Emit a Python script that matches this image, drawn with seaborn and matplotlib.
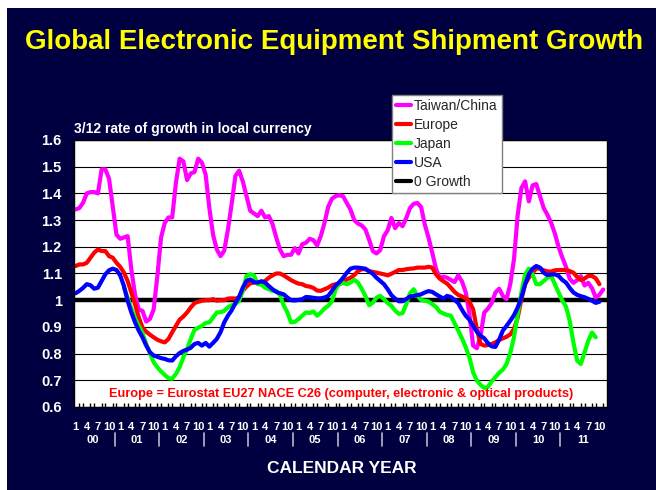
import matplotlib.pyplot as plt
import numpy as np
import seaborn as sns
from matplotlib.lines import Line2D
from matplotlib.patches import Rectangle

# Monthly series, month index 0 = Jan 2000
taiwan = [
    1.34, 1.345, 1.365, 1.40, 1.405, 1.405, 1.40, 1.49, 1.49, 1.455, 1.35, 1.245,
    1.23, 1.235, 1.24, 1.115, 1.02, 0.965, 0.96, 0.92, 0.93, 0.965, 1.09, 1.235,
    1.29, 1.31, 1.31, 1.44, 1.53, 1.52, 1.45, 1.475, 1.48, 1.53, 1.515, 1.47,
    1.345, 1.245, 1.19, 1.165, 1.185, 1.265, 1.36, 1.465, 1.485, 1.445, 1.39, 1.335,
    1.325, 1.315, 1.335, 1.31, 1.315, 1.285, 1.235, 1.19, 1.165, 1.17, 1.17, 1.195,
    1.175, 1.21, 1.215, 1.23, 1.225, 1.205, 1.24, 1.29, 1.35, 1.38, 1.39, 1.393,
    1.389, 1.364, 1.339, 1.30, 1.287, 1.28, 1.265, 1.227, 1.184, 1.175, 1.188, 1.24,
    1.262, 1.308, 1.27, 1.289, 1.277, 1.308, 1.345, 1.361, 1.364, 1.349, 1.283, 1.234,
    1.178, 1.118, 1.084, 1.088, 1.084, 1.076, 1.068, 1.093, 1.07, 1.03, 0.95, 0.83,
    0.82, 0.867, 0.954, 0.969, 0.989, 1.029, 1.043, 1.016, 1.004, 1.06, 1.153, 1.32,
    1.42, 1.445, 1.37, 1.43, 1.435, 1.39, 1.345, 1.32, 1.29, 1.25, 1.20, 1.16,
    1.125, 1.08, 1.065, 1.075, 1.09, 1.055, 1.065, 1.045, 1.01, 1.02, 1.04,
]
europe = [
    1.128, 1.134, 1.134, 1.14, 1.159, 1.178, 1.19, 1.184, 1.184, 1.165, 1.159, 1.14,
    1.125, 1.103, 1.072, 1.029, 0.985, 0.935, 0.898, 0.882, 0.871, 0.861, 0.852, 0.846,
    0.842, 0.855, 0.88, 0.904, 0.927, 0.939, 0.954, 0.973, 0.989, 0.994, 0.998, 1.0,
    1.0, 1.004, 0.998, 1.0, 1.0, 1.006, 1.007, 1.006, 1.01, 1.035, 1.051, 1.063,
    1.066, 1.066, 1.066, 1.072, 1.084, 1.093, 1.1, 1.1, 1.093, 1.084, 1.075, 1.068,
    1.062, 1.06, 1.053, 1.051, 1.046, 1.036, 1.035, 1.041, 1.047, 1.056, 1.06, 1.06,
    1.068, 1.078, 1.084, 1.094, 1.109, 1.116, 1.116, 1.109, 1.106, 1.103, 1.1, 1.097,
    1.093, 1.099, 1.106, 1.113, 1.113, 1.116, 1.118, 1.119, 1.122, 1.122, 1.122, 1.125,
    1.122, 1.097, 1.081, 1.071, 1.062, 1.047, 1.031, 1.02, 1.014, 1.007, 0.995, 0.966,
    0.892, 0.836, 0.83, 0.832, 0.836, 0.842, 0.851, 0.857, 0.863, 0.872, 0.892, 0.935,
    1.004, 1.06, 1.084, 1.103, 1.119, 1.118, 1.112, 1.108, 1.107, 1.112, 1.113, 1.113,
    1.113, 1.109, 1.103, 1.087, 1.076, 1.081, 1.091, 1.091, 1.082, 1.06,
]
usa = [
    1.026, 1.035, 1.046, 1.06, 1.056, 1.043, 1.047, 1.072, 1.097, 1.112, 1.118, 1.113,
    1.093, 1.053, 0.998, 0.954, 0.917, 0.886, 0.861, 0.83, 0.805, 0.793, 0.788, 0.783,
    0.78, 0.775, 0.774, 0.79, 0.802, 0.81, 0.815, 0.822, 0.836, 0.84, 0.83, 0.84,
    0.826, 0.84, 0.855, 0.88, 0.917, 0.942, 0.962, 0.989, 1.012, 1.047, 1.072, 1.078,
    1.068, 1.066, 1.071, 1.066, 1.053, 1.041, 1.031, 1.026, 1.022, 1.01, 1.0, 0.999,
    1.001, 1.004, 1.012, 1.011, 1.009, 1.007, 1.007, 1.01, 1.016, 1.035, 1.055, 1.068,
    1.084, 1.103, 1.118, 1.122, 1.122, 1.12, 1.118, 1.108, 1.099, 1.084, 1.072, 1.06,
    1.041, 1.019, 1.006, 0.996, 0.996, 1.004, 1.014, 1.016, 1.019, 1.022, 1.029, 1.034,
    1.031, 1.022, 1.014, 1.006, 1.016, 1.012, 1.001, 0.989, 0.964, 0.942, 0.927, 0.904,
    0.882, 0.867, 0.857, 0.839, 0.827, 0.825, 0.852, 0.886, 0.904, 0.923, 0.944, 0.973,
    1.01, 1.06, 1.097, 1.118, 1.128, 1.122, 1.103, 1.094, 1.096, 1.097, 1.091, 1.076,
    1.066, 1.046, 1.029, 1.02, 1.015, 1.011, 1.005, 0.998, 0.99, 0.994,
]
japan_start = 13  # Feb 2001
japan = [
    1.047, 1.01, 0.969, 0.932, 0.904, 0.877, 0.836, 0.802, 0.768, 0.749, 0.733,
    0.72, 0.708, 0.706, 0.724, 0.749, 0.786, 0.817, 0.855, 0.889, 0.897, 0.904, 0.915,
    0.917, 0.935, 0.954, 0.955, 0.96, 0.973, 0.981, 0.985, 0.998, 1.035, 1.091, 1.097,
    1.093, 1.06, 1.058, 1.047, 1.041, 1.035, 1.035, 1.019, 0.981, 0.954, 0.917, 0.919,
    0.929, 0.942, 0.954, 0.952, 0.958, 0.942, 0.954, 0.969, 0.979, 0.996, 1.041, 1.063,
    1.065, 1.06, 1.066, 1.076, 1.066, 1.043, 1.016, 0.981, 0.991, 1.01, 1.016, 1.004,
    0.989, 0.979, 0.961, 0.949, 0.951, 0.985, 1.026, 1.041, 1.016, 1.001, 0.998, 0.995,
    0.985, 0.975, 0.957, 0.95, 0.945, 0.942, 0.914, 0.886, 0.857, 0.824, 0.786, 0.73,
    0.699, 0.683, 0.671, 0.675, 0.696, 0.712, 0.728, 0.74, 0.761, 0.802, 0.861, 0.948,
    1.029, 1.097, 1.118, 1.097, 1.06, 1.06, 1.072, 1.084, 1.091, 1.06, 1.029, 0.998,
    0.976, 0.923, 0.842, 0.774, 0.761, 0.805, 0.848, 0.879, 0.861,
]
zero_growth = 1.0

month_labels = ["1", "4", "7", "10"]
year_labels = ["00", "01", "02", "03", "04", "05", "06", "07", "08", "09", "10", "11"]

NAVY = "#000040"

sns.set_theme(style="white")
plt.rcParams["font.family"] = ["Liberation Sans", "DejaVu Sans"]

fig = plt.figure(figsize=(6.56, 4.9), dpi=100)
fig.patch.set_facecolor("white")
fig.patches.append(Rectangle((7 / 656, 0), 1 - 7 / 656, 1 - 8 / 490,
                             transform=fig.transFigure, facecolor=NAVY,
                             edgecolor="none", zorder=-10))

ax = fig.add_axes([0.1133, 0.1694, 0.8115, 0.5449])
ax.set_facecolor("white")

series = [
    ("Taiwan/China", np.arange(len(taiwan)), taiwan, "#ff00ff"),
    ("Europe", np.arange(len(europe)), europe, "#ff0000"),
    ("Japan", np.arange(len(japan)) + japan_start, japan, "#00ff00"),
    ("USA", np.arange(len(usa)), usa, "#0000ff"),
]

ax.axhline(zero_growth, color="black", linewidth=3.2, zorder=1.5)
for name, x, y, col in series:
    sns.lineplot(x=x, y=y, color=col, linewidth=3, ax=ax, legend=False, zorder=2)

# axes styling
ax.set_xlim(-0.35, 142.95)
ax.set_ylim(0.6, 1.6)
yt = np.round(np.arange(0.6, 1.61, 0.1), 1)
ax.set_yticks(yt)
ax.set_yticklabels([f"{v:g}" for v in yt])
ax.yaxis.grid(True, color="black", linewidth=0.8)
ax.xaxis.grid(False)
ax.set_xticks(np.arange(0, 143, 3))
ax.set_xticklabels(month_labels * 12)
ax.set_xticks(np.arange(0, 143), minor=True)
ax.tick_params(axis="x", which="major", direction="inout", length=10, width=1,
               color="black", pad=6, labelsize=8, labelcolor="white")
ax.tick_params(axis="x", which="minor", direction="in", length=3, width=1,
               color="black", bottom=True)
ax.tick_params(axis="y", length=0, pad=9, labelsize=10.5, labelcolor="white")
for lab in ax.get_xticklabels() + ax.get_yticklabels():
    lab.set_fontweight("bold")
for sp in ax.spines.values():
    sp.set_color("black")
    sp.set_linewidth(1)
ax.set_xlabel("")
ax.set_ylabel("")

# year labels and separators
xt = ax.get_xaxis_transform()
for k, yl in enumerate(year_labels):
    ax.text(12 * k + 4.5, -0.123, yl, transform=xt, ha="center", va="center",
            color="white", fontsize=8, fontweight="bold")
    if k > 0:
        ax.add_line(Line2D([12 * k - 1.5] * 2, [-0.097, -0.146], transform=xt,
                           color="#b8b8c8", linewidth=1.2, clip_on=False))

ax.text(0.501, 0.05,
        "Europe = Eurostat EU27 NACE C26 (computer, electronic & optical products)",
        transform=ax.transAxes, ha="center", va="center", color="#ff0000",
        fontsize=9.2, fontweight="bold")

handles = [Line2D([], [], color=c, linewidth=3) for _, _, _, c in series]
handles.append(Line2D([], [], color="black", linewidth=3))
labels = [s[0] for s in series] + ["0 Growth"]
leg = ax.legend(handles, labels, loc="upper left",
                bbox_to_anchor=(392 / 656, 1 - 95 / 490),
                bbox_transform=fig.transFigure, frameon=True, fancybox=False,
                edgecolor="#808080", framealpha=1, fontsize=10,
                handlelength=1.1, handletextpad=0.2, labelspacing=0.35,
                borderpad=0.3, borderaxespad=0)
leg.get_frame().set_linewidth(1)
leg.set_zorder(5)

fig.text(0.51, 0.914, "Global Electronic Equipment Shipment Growth",
         ha="center", va="center", color="#ffff00", fontsize=20, fontweight="bold")
fig.text(74 / 656, 1 - 133 / 490, "3/12 rate of growth in local currency",
         ha="left", va="baseline", color="white", fontsize=10, fontweight="bold")
fig.text(342 / 656, 1 - 468 / 490, "CALENDAR YEAR", ha="center", va="center",
         color="white", fontsize=12.5, fontweight="bold")

fig.savefig("out.png", dpi=100, facecolor=fig.get_facecolor())
plt.close(fig)
